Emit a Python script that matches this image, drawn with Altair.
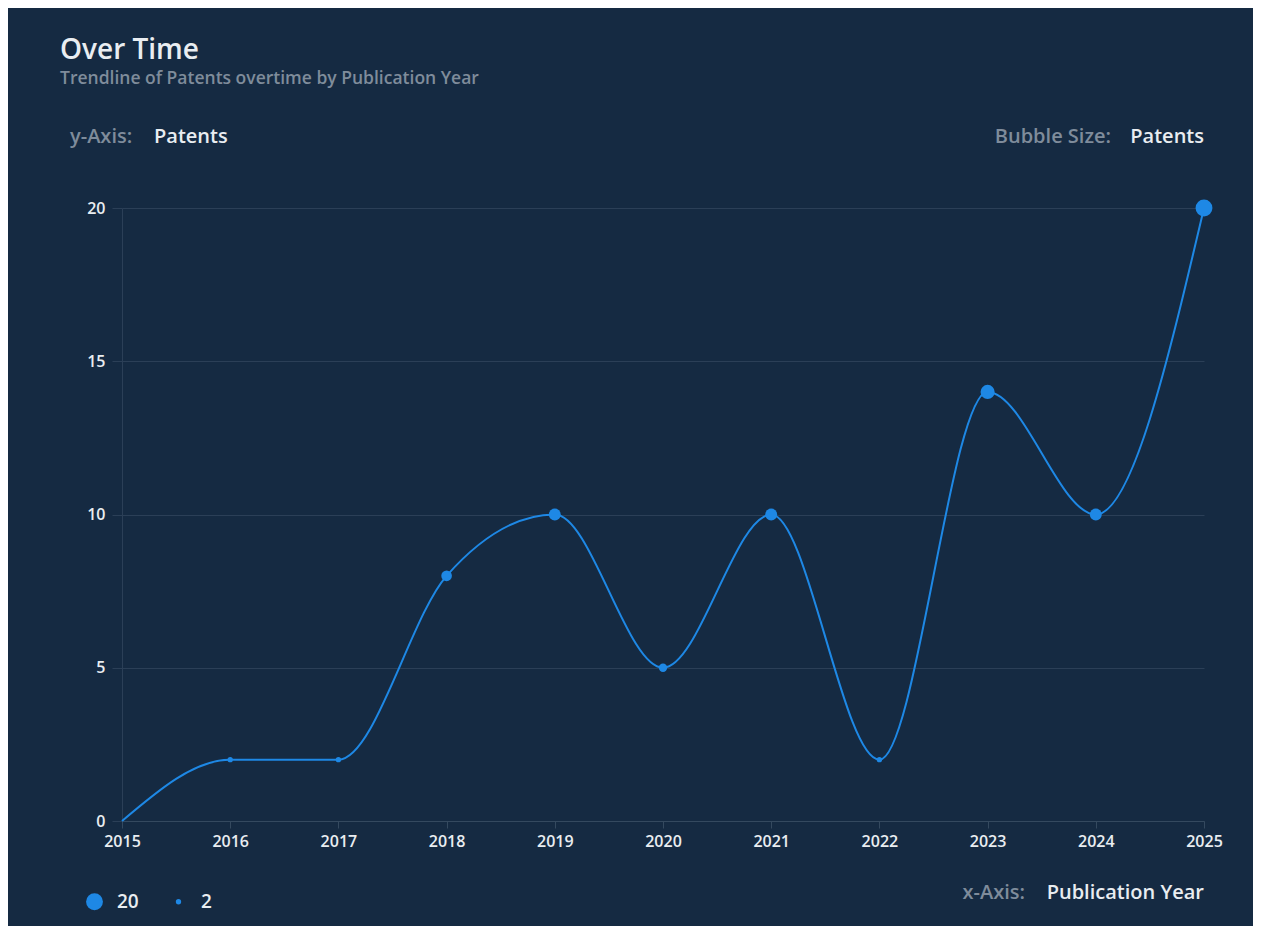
import altair as alt
import pandas as pd

# ---- data ----
years = [2015, 2016, 2017, 2018, 2019, 2020, 2021, 2022, 2023, 2024, 2025]
patents = [0, 2, 2, 8, 10, 5, 10, 2, 14, 10, 20]
y_ticks = [0, 5, 10, 15, 20]
legend_values = [20, 2]

df = pd.DataFrame({"year": years, "patents": patents})

BG = "#152a42"
BLUE = "#1e88e5"
GRID = "#2b3f57"
DOMAIN = "#34495f"
WHITE = "#e9edf1"
GRAY = "#7f8c9b"
FONT = "Open Sans"

x = alt.X(
    "year:Q",
    scale=alt.Scale(domain=[2015, 2025], nice=False, zero=False),
    axis=alt.Axis(values=years, format="d", title=None, grid=False,
                  tickSize=7, tickColor=DOMAIN, domainColor=DOMAIN,
                  labelPadding=5, labelFlush=False, labelOverlap=False),
)
y = alt.Y(
    "patents:Q",
    scale=alt.Scale(domain=[0, 20], nice=False),
    axis=alt.Axis(values=y_ticks, title=None, grid=True, gridColor=GRID,
                  tickSize=10, tickColor=GRID, domainColor=GRID,
                  labelPadding=7, labelFlush=False),
)

line = alt.Chart(df).mark_line(
    interpolate="monotone", color=BLUE, strokeWidth=2
).encode(x=x, y=y)

points = alt.Chart(df).mark_circle(color=BLUE, opacity=1).encode(
    x=x,
    y=y,
    size=alt.Size(
        "patents:Q",
        scale=alt.Scale(domain=[0, 20], range=[0, 284]),
        legend=alt.Legend(
            values=legend_values, orient="none", legendX=-37, legendY=684,
            direction="horizontal", title=None, padding=0,
            symbolType="circle", symbolFillColor=BLUE, symbolStrokeWidth=0,
            symbolOpacity=1, labelColor=WHITE, labelFont=FONT,
            labelFontSize=19, labelFontWeight=600, labelOffset=13,
            columnPadding=30,
        ),
    ),
)


def label(text, xpos, ypos, color, align, weight):
    return alt.Chart(alt.Data(values=[{}])).mark_text(
        text=text, align=align, baseline="middle", font=FONT, fontSize=20,
        fontWeight=weight, color=color,
    ).encode(x=alt.value(xpos), y=alt.value(ypos))


labels = [
    label("y-Axis:", -52, -71, GRAY, "left", 600),
    label("Patents", 32, -71, WHITE, "left", 600),
    label("Bubble Size:", 989, -71, GRAY, "right", 600),
    label("Patents", 1082, -71, WHITE, "right", 600),
    label("x-Axis:", 903, 685, GRAY, "right", 600),
    label("Publication Year", 1082, 685, WHITE, "right", 600),
]

chart = alt.layer(line, points, *labels).properties(
    width=1082,
    height=613,
    autosize=alt.AutoSizeParams(type="none"),
    padding={"left": 114, "top": 200, "right": 49, "bottom": 105},
    background=BG,
    title=alt.TitleParams(
        text="Over Time",
        subtitle="Trendline of Patents overtime by Publication Year",
        anchor="start", frame="group", dx=-62, offset=40,
        font=FONT, fontSize=28, fontWeight=600, color=WHITE,
        subtitleFont=FONT, subtitleFontSize=17.5, subtitleFontWeight=600,
        subtitleColor=GRAY, subtitlePadding=5,
    ),
).configure_view(stroke=None).configure_axis(
    labelFont=FONT, labelFontSize=16, labelFontWeight=600, labelColor=WHITE,
)

chart.save("out.html", embed_options={"renderer": "svg", "actions": False})
